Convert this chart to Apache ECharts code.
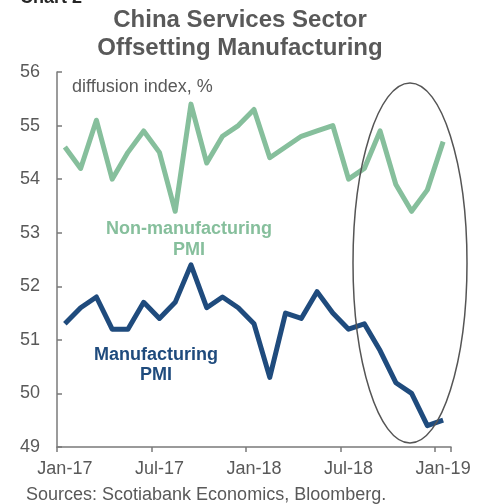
<!DOCTYPE html>
<html>
<head>
<meta charset="utf-8">
<script src="https://cdn.jsdelivr.net/npm/echarts@6/dist/echarts.min.js"></script>
<style>html,body{margin:0;padding:0;background:#fff;}#c{width:484px;height:504px;}</style>
</head>
<body>
<div id="c"></div>
<script>
var months = ['Jan-17','Feb-17','Mar-17','Apr-17','May-17','Jun-17','Jul-17','Aug-17','Sep-17','Oct-17','Nov-17','Dec-17',
  'Jan-18','Feb-18','Mar-18','Apr-18','May-18','Jun-18','Jul-18','Aug-18','Sep-18','Oct-18','Nov-18','Dec-18','Jan-19'];
var nonManufacturing = [54.6,54.2,55.1,54.0,54.5,54.9,54.5,53.4,55.4,54.3,54.8,55.0,
  55.3,54.4,54.6,54.8,54.9,55.0,54.0,54.2,54.9,53.9,53.4,53.8,54.7];
var manufacturing = [51.3,51.6,51.8,51.2,51.2,51.7,51.4,51.7,52.4,51.6,51.8,51.6,
  51.3,50.3,51.5,51.4,51.9,51.5,51.2,51.3,50.8,50.2,50.0,49.4,49.5];
var yTicks = [49,50,51,52,53,54,55,56];

var FONT = 'Liberation Sans, Arial, sans-serif';
var GRAY = '#595959';
var chart = echarts.init(document.getElementById('c'), null, {renderer:'canvas'});
chart.setOption({
  animation: false,
  backgroundColor: '#fff',
  grid: {left: 57, right: 33, top: 72, bottom: 57, outerBoundsMode: 'none', containLabel: false},
  xAxis: {
    type: 'category',
    data: months,
    boundaryGap: true,
    axisLine: {lineStyle: {color: '#7a7a7a', width: 1.5}},
    axisTick: {show: true, interval: 5, length: 5, lineStyle: {color: '#7a7a7a', width: 1.5}},
    axisLabel: {interval: 5, color: GRAY, fontSize: 18, fontFamily: FONT, margin: 13},
    splitLine: {show: false}
  },
  yAxis: {
    type: 'value',
    min: yTicks[0], max: yTicks[yTicks.length-1], interval: 1,
    axisLine: {show: true, lineStyle: {color: '#7a7a7a', width: 1.5}},
    axisTick: {show: true, inside: true, length: 5, lineStyle: {color: '#7a7a7a', width: 1.5}},
    axisLabel: {color: GRAY, fontSize: 18, fontFamily: FONT, margin: 17},
    splitLine: {show: false}
  },
  series: [
    {name: 'Non-manufacturing PMI', type: 'line', data: nonManufacturing, symbol: 'none',
     lineStyle: {color: '#86bf9c', width: 5, join: 'round'}, itemStyle: {color: '#86bf9c'}},
    {name: 'Manufacturing PMI', type: 'line', data: manufacturing, symbol: 'none',
     lineStyle: {color: '#1f4b7d', width: 5, join: 'round'}, itemStyle: {color: '#1f4b7d'}}
  ],
  graphic: [
    {type: 'text', left: 20, top: -11, style: {text: 'Chart 2', fill: '#262626', font: 'bold 18px ' + FONT}},
    {type: 'text', x: 240, y: 34, style: {text: 'China Services Sector\nOffsetting Manufacturing', fill: GRAY,
      font: 'bold 24px ' + FONT, align: 'center', verticalAlign: 'middle', lineHeight: 28}},
    {type: 'text', x: 72, y: 87, style: {text: 'diffusion index, %', fill: GRAY, font: '18px ' + FONT, verticalAlign: 'middle'}},
    {type: 'text', x: 189, y: 240, style: {text: 'Non-manufacturing\nPMI', fill: '#86bf9c', font: 'bold 18px ' + FONT,
      align: 'center', verticalAlign: 'middle', lineHeight: 21}},
    {type: 'text', x: 156, y: 365, style: {text: 'Manufacturing\nPMI', fill: '#1f4b7d', font: 'bold 18px ' + FONT,
      align: 'center', verticalAlign: 'middle', lineHeight: 20}},
    {type: 'ellipse', shape: {cx: 410, cy: 263, rx: 57, ry: 180}, style: {fill: 'none', stroke: '#555', lineWidth: 1.5}, z: 10},
    {type: 'text', x: 26, y: 495, style: {text: 'Sources: Scotiabank Economics, Bloomberg.', fill: GRAY, font: '18px ' + FONT, verticalAlign: 'middle'}}
  ]
});
</script>
</body>
</html>
